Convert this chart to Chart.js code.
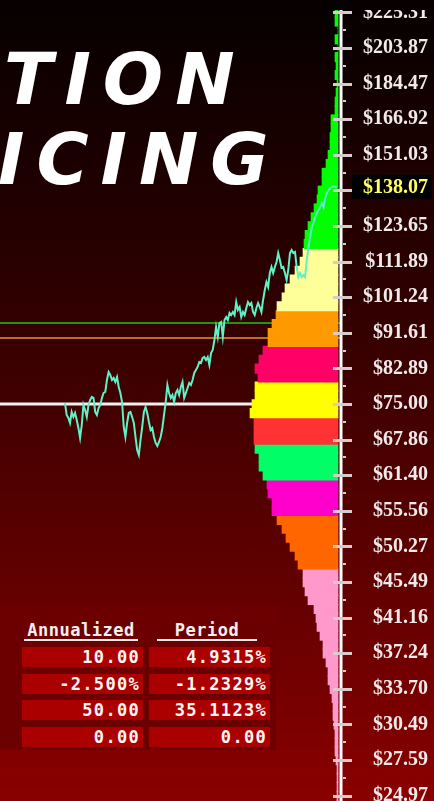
<!DOCTYPE html>
<html lang="en">
<head>
<meta charset="UTF-8">
<title>Option Pricing</title>
<script src="https://cdn.jsdelivr.net/npm/chart.js"></script>
<style>
    html, body { margin: 0; padding: 0; }
    body {
        width: 434px; height: 801px; overflow: hidden; position: relative;
        background: linear-gradient(to bottom, #060000 0%, #2c0000 35%, #5e0000 70%, #8a0000 100%);
    }
    .titulo {
        position: absolute; left: 0; color: #ffffff;
        font-family: 'DejaVu Sans'; font-weight: bold; font-style: italic;
        font-size: 71px; line-height: 1; letter-spacing: 12px; white-space: nowrap;
    }
    #t1 { top: 44px; left: 4px; }
    #t2 { top: 124px; left: -2px; }
    #grafico { position: absolute; left: 0; top: 10px; }
    .painel {
        position: absolute; left: 0; top: 605px; width: 276px; height: 145px;
        background: #6c0000;
    }
    .cab {
        position: absolute; top: 17px; color: #f6eeee; text-align: center;
        font-family: 'DejaVu Sans Mono'; font-weight: bold; font-size: 17px; letter-spacing: 0.5px;
        border-bottom: 2px solid #f6eeee; line-height: 17px;
    }
    .celula {
        position: absolute; height: 20px; width: 121px; background: #aa0000;
        color: #fff4f4; text-align: right; box-sizing: border-box; padding-right: 3px;
        font-family: 'DejaVu Sans Mono'; font-weight: bold; font-size: 17px; line-height: 21px;
        letter-spacing: 1.3px;
    }
</style>
</head>
<body>
    <div class="titulo" id="t1">TION</div>
    <div class="titulo" id="t2">ICING</div>

    <div class="painel" id="painel">
        <div class="cab" style="left: 24px; width: 114px;">Annualized</div>
        <div class="cab" style="left: 157px; width: 100px;">Period</div>
    </div>

    <canvas id="grafico" width="434" height="791"></canvas>

    <script>
        // preço do ativo ao longo do período
        const precos = [
            75.21, 72.72, 72.11, 71.10, 73.34, 72.31, 73.13, 71.71, 70.11, 68.17,
            70.70, 74.79, 73.75, 72.31, 74.79, 75.85, 76.49, 76.28, 73.34, 72.72,
            74.16, 74.79, 76.28, 77.35, 77.57, 80.23, 82.06, 81.37, 80.23, 80.68,
            79.78, 80.91, 78.67, 77.35, 75.42, 70.31, 68.36, 71.10, 73.13, 73.34,
            72.31, 71.10, 68.36, 65.91, 64.99, 67.79, 70.31, 73.34, 74.37, 73.13,
            71.30, 69.72, 70.11, 68.36, 67.22, 66.65, 67.41, 68.36, 70.11, 72.72,
            75.42, 79.11, 77.35, 76.28, 76.92, 75.42, 77.35, 78.01, 76.92, 78.67,
            79.78, 76.28, 77.35, 78.45, 79.56, 79.11, 80.23, 81.83, 82.52, 83.22,
            84.39, 84.16, 85.35, 85.59, 84.87, 85.59, 83.68, 86.55, 87.29, 89.77,
            93.11, 90.53, 94.16, 94.43, 90.53, 94.96, 95.76, 94.96, 96.84, 96.30,
            97.12, 96.30, 99.88, 97.66, 98.49, 95.76, 97.12, 96.30, 98.21, 99.88,
            99.05, 99.60, 97.12, 96.30, 98.21, 99.60, 98.49, 97.12, 100.45, 103.31,
            105.66, 104.19, 108.36, 110.20, 108.36, 110.20, 111.76, 114.62, 112.39, 109.90,
            110.20, 108.36, 106.25, 109.28, 114.62, 115.59, 114.62, 114.95, 110.20, 107.15,
            108.36, 107.15, 107.75, 107.15, 112.39, 116.24, 119.89, 123.31, 124.70, 126.81,
            128.24, 129.33, 130.42, 131.89, 130.42, 133.76, 135.66, 136.81, 137.58, 137.96,
            138.35, 137.96, 138.07
        ];
        const precoAtual = 138.07;
        const strike = 75.00;
        const nivelVerde = 94.16;
        const nivelLaranja = 90.28;

        // distribuição simulada: frequência por faixa de preço (de baixo para cima)
        const passoBin = 0.025;      // largura da faixa em log-preço
        const binInicial = -45;
        const frequencias = [
            1, 1, 1, 1, 1, 2, 3, 3, 3, 4,
            5, 5, 6, 8, 10, 10, 12, 15, 15, 18,
            21, 22, 24, 30, 33, 35, 35, 40, 43, 48,
            52, 56, 61, 66, 66, 70, 71, 75, 79, 79,
            83, 84, 84, 84, 88, 86, 83, 83, 80, 83,
            79, 75, 70, 70, 66, 62, 61, 56, 53, 48,
            43, 38, 35, 34, 33, 30, 27, 24, 21, 20,
            16, 16, 12, 10, 8, 8, 7, 7, 3, 3,
            2, 1, 3, 2, 3, 0, 3, 0, 3, 3
        ];
        // limites das faixas de probabilidade (preço)
        const limitesFaixas = [47.58, 55.38, 61.61, 68.17, 73.95, 81.14, 89.52, 99.88, 116.24];
        const coresFaixas = ['#ff99cc', '#ff6600', '#ff00cc', '#00ff66', '#ff3333',
                             '#ffff00', '#ff0066', '#ff9900', '#ffff99', '#00ff00'];

        // eixo de preços
        const precosEixo = [225.31, 203.87, 184.47, 166.92, 151.03, 136.66, 123.65, 111.89,
                            101.24, 91.61, 82.89, 75.00, 67.86, 61.40, 55.56, 50.27, 45.49,
                            41.16, 37.24, 33.70, 30.49, 27.59, 24.97];

        // tabela
        const anualizado = ['10.00', '-2.500%', '50.00', '0.00'];
        const periodo = ['4.9315%', '-1.2329%', '35.1123%', '0.00'];

        const painel = document.getElementById('painel');
        for (let i = 0; i < anualizado.length; i++) {
            const topo = 42 + i * 26.7;
            painel.innerHTML += `<div class="celula" style="left:22px; top:${topo}px;">${anualizado[i]}</div>`;
            painel.innerHTML += `<div class="celula" style="left:149px; top:${topo}px;">${periodo[i]}</div>`;
        }

        const xMin = -38.7, xMax = 163.8;

        function corDaFaixa(preco) {
            let i = 0;
            while (i < limitesFaixas.length && preco > limitesFaixas[i]) i++;
            return coresFaixas[i];
        }

        let barras = [];
        let coresBarras = [];
        for (let i = 0; i < frequencias.length; i++) {
            const v = Math.log(strike) + passoBin * (binInicial + i + 0.5);
            barras.push({ x: frequencias[i], y: v });
            coresBarras.push(corDaFaixa(Math.exp(v)));
        }

        function linhaHorizontal(valor, cor, largura) {
            return {
                type: 'line',
                data: [{ x: xMin, y: Math.log(valor) }, { x: xMax, y: Math.log(valor) }],
                borderColor: cor, borderWidth: largura, pointRadius: 0,
                xAxisID: 'x', yAxisID: 'y', order: 3
            };
        }

        const marcasEixo = {
            id: 'marcasEixo',
            afterDraw(chart) {
                const ctx = chart.ctx;
                const escala = chart.scales.y;
                const x0 = chart.chartArea.right + 1;
                ctx.save();
                ctx.strokeStyle = '#ffffff';
                ctx.lineWidth = 3;
                ctx.beginPath();
                ctx.moveTo(x0, 0);
                ctx.lineTo(x0, chart.height);
                ctx.stroke();
                ctx.fillStyle = '#d6cccc';
                escala.ticks.forEach(t => {
                    const py = Math.round(escala.getPixelForValue(t.value));
                    ctx.fillRect(x0 - 8, py - 1, 19, 3);
                    const pm = Math.round(escala.getPixelForValue(t.value + 0.05));
                    ctx.fillRect(x0 + 2, pm - 1, 3, 2);
                });
                // preço atual em destaque
                const pc = escala.getPixelForValue(Math.log(precoAtual));
                ctx.fillStyle = '#000000';
                ctx.fillRect(352, pc - 12, 80, 24);
                ctx.fillStyle = '#ffff66';
                ctx.font = 'bold 20px "Liberation Serif"';
                ctx.textAlign = 'right';
                ctx.textBaseline = 'middle';
                ctx.fillText('$' + precoAtual.toFixed(2), 428, pc + 1);
                ctx.restore();
            }
        };

        new Chart(document.getElementById('grafico'), {
            type: 'line',
            data: {
                datasets: [
                    {
                        type: 'line',
                        data: precos.map((p, i) => ({ x: i, y: Math.log(p) })),
                        borderColor: '#5ef2c6', borderWidth: 2, pointRadius: 0, tension: 0,
                        xAxisID: 'x', yAxisID: 'y', order: 1
                    },
                    {
                        type: 'bar',
                        indexAxis: 'y',
                        data: barras,
                        backgroundColor: coresBarras,
                        borderWidth: 0,
                        barThickness: 9.4,
                        xAxisID: 'xh', yAxisID: 'y', order: 2
                    },
                    linhaHorizontal(nivelVerde, '#18c818', 1.5),
                    linhaHorizontal(nivelLaranja, '#e8962a', 1.5),
                    linhaHorizontal(strike, '#f4eeee', 3)
                ]
            },
            options: {
                responsive: false,
                animation: false,
                devicePixelRatio: 1,
                layout: { padding: { left: 0, top: 0, bottom: 0, right: 6 } },
                plugins: { legend: { display: false }, tooltip: { enabled: false } },
                scales: {
                    x: { type: 'linear', display: false, min: xMin, max: xMax, offset: false },
                    xh: { type: 'linear', display: false, min: -2, max: 338, reverse: true, offset: false },
                    y: {
                        type: 'linear', position: 'right', offset: false, beginAtZero: false,
                        min: 3.2023, max: 5.4242,
                        grid: { display: false, drawTicks: false },
                        border: { display: false },
                        afterBuildTicks: (s) => {
                            s.ticks = precosEixo.map(p => ({ value: Math.log(p) }));
                        },
                        afterFit: (s) => {
                            s.width = 88;
                            s.paddingTop = 0;
                            s.paddingBottom = 0;
                        },
                        ticks: {
                            crossAlign: 'far',
                            padding: 16,
                            color: '#f2eaea',
                            font: { family: 'Liberation Serif', weight: 'bold', size: 20 },
                            callback: (v) => {
                                const p = Math.exp(v);
                                if (Math.abs(p - precoAtual) < 3) return '';
                                return '$' + p.toFixed(2);
                            }
                        }
                    }
                }
            },
            plugins: [marcasEixo]
        });
    </script>
</body>
</html>
